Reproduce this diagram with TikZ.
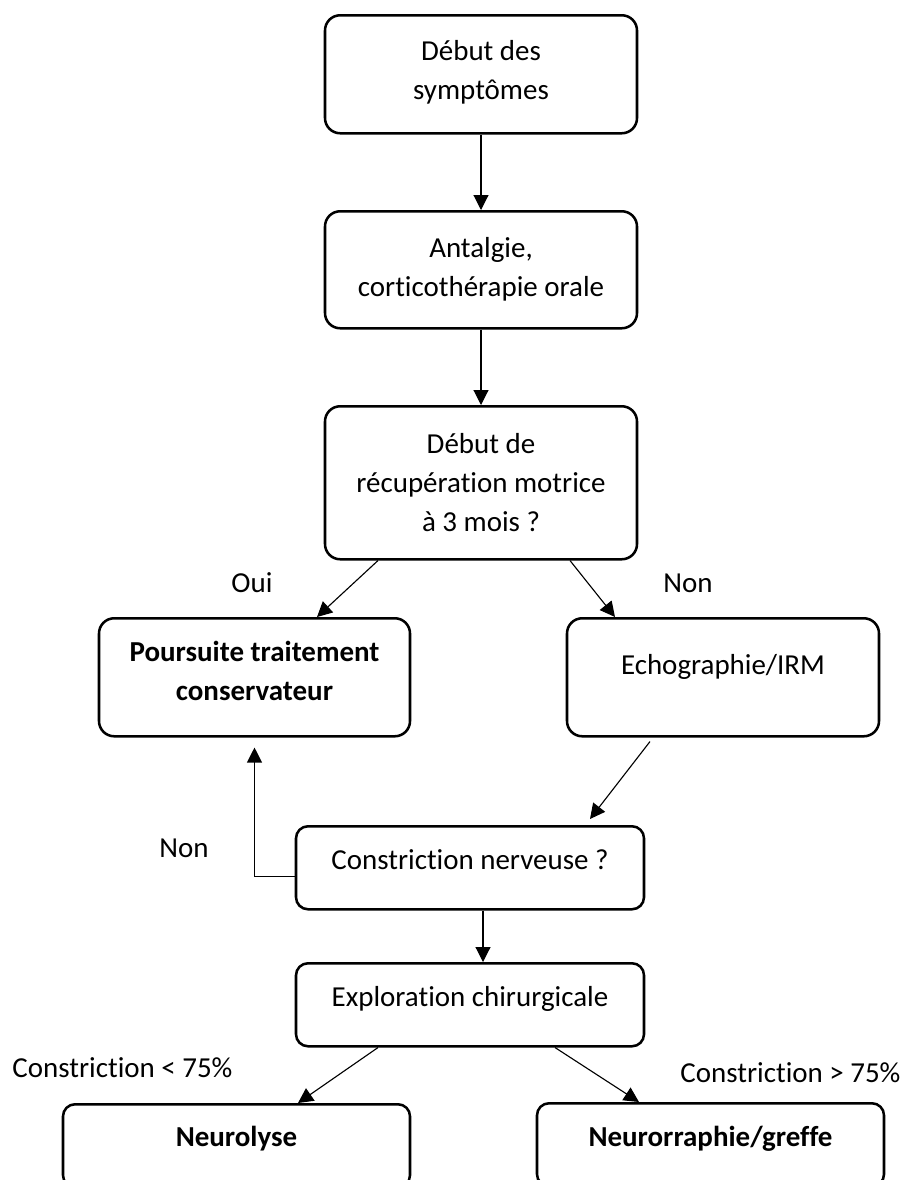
\documentclass[tikz,border=0pt]{standalone}
\usepackage{fontspec}
\setmainfont{Carlito}[Ligatures={NoCommon}]
\usetikzlibrary{arrows.meta,positioning,calc}
\tikzstyle{etape}=[draw, line width=1.8pt, rounded corners=0.38cm, anchor=north, align=flush center, inner xsep=0pt, inner ysep=0pt, font=\fontsize{20.6}{27.74}\selectfont]
\tikzstyle{petite}=[rounded corners=0.3cm]
\tikzstyle{fleche}=[line width=0.8pt, -{Triangle[length=0.375cm,width=0.375cm]}]
\tikzstyle{reponse}=[anchor=base, inner sep=0pt, font=\fontsize{20.6}{27.74}\selectfont]
\tikzset{y=-1cm}
\tikzset{x=1cm}
\begin{document}
\begin{tikzpicture}
  \useasboundingbox (0,0) rectangle (22.6,29.5);
  \draw (12.025,0.35) node[etape,text width=7.8cm,text height=1.125cm,text depth=1.825cm] (debut) {Début des\\symptômes};
  \draw (12.025,5.25) node[etape,text width=7.8cm,text height=1.15cm,text depth=1.775cm] (antalgie) {Antalgie,\\corticothérapie orale};
  \draw (12.025,10.125) node[etape,text width=7.8cm,text height=1.175cm,text depth=2.65cm] (recup) {Début de\\récupération motrice\\à 3 mois ?};

  \draw (6.3625,15.425) node[etape,text width=7.775cm,text height=1.075cm,text depth=1.875cm] (poursuite) {\textbf{Poursuite traitement}\\\textbf{conservateur}};
  \draw (18.075,15.425) node[etape,text width=7.8cm,text height=1.4cm,text depth=1.55cm] (echo) {Echographie/IRM};

  \draw (11.75,20.625) node[etape,petite,text width=8.7cm,text height=1.075cm,text depth=1cm] (constriction) {Constriction nerveuse ?};
  \draw (11.75,24.05) node[etape,petite,text width=8.7cm,text height=1.075cm,text depth=1cm] (exploration) {Exploration chirurgicale};

  \draw (5.9125,27.575) node[etape,petite,text width=8.675cm,text height=1.05cm,text depth=1.025cm] (neurolyse) {\textbf{Neurolyse}};
  \draw (17.7625,27.55) node[etape,petite,text width=8.675cm,text height=1.075cm,text depth=1cm] (neurorraphie) {\textbf{Neurorraphie/greffe}};

  \draw[fleche] (debut) -- (antalgie);
  \draw[fleche] (antalgie) -- (recup);
  \draw[fleche] ([xshift=-2.575cm]recup.south) -- ([xshift=1.5625cm]poursuite.north);
  \draw[fleche] ([xshift=2.225cm]recup.south) -- ([xshift=-2.7cm]echo.north);
  \draw[fleche] ([xshift=-1.825cm,yshift=-0.1cm]echo.south) -- ([xshift=3cm,yshift=0.15cm]constriction.north);
  \draw[fleche] ([yshift=-0.22cm]constriction.west) -| ([yshift=-0.25cm]poursuite.south);
  \draw[fleche] ([xshift=0.325cm]constriction.south) -- ([xshift=0.325cm]exploration.north);
  \draw[fleche] ([xshift=-2.3cm]exploration.south) -- ([xshift=1.5375cm]neurolyse.north);
  \draw[fleche] ([xshift=2.125cm]exploration.south) -- ([xshift=-1.7875cm]neurorraphie.north);

  %% Labels
  \draw (6.3,14.8) node[reponse] (oui) {Oui};
  \draw (17.2,14.8) node[reponse] (non-echo) {Non};
  \draw (4.6,21.425) node[reponse] (non-constriction) {Non};
  \draw (3.0625,26.925) node[reponse] (moins) {Constriction < 75\%};
  \draw (19.7625,27.05) node[reponse] (plus) {Constriction > 75\%};
\end{tikzpicture}
\end{document}
